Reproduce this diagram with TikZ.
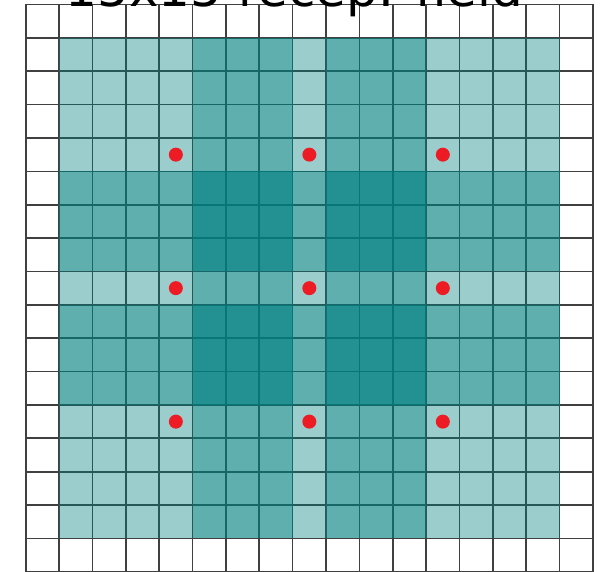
\documentclass[tikz,border=0pt]{standalone}
\usepackage{fontspec}
\setmainfont{DejaVu Sans}
\usepackage{xcolor}
\usepackage{tikz}
\usetikzlibrary{
  positioning,
}
\definecolor{fieldteal}{HTML}{008080}
\definecolor{dotred}{HTML}{ED1C24}

\begin{document}
\begin{tikzpicture}[
    cell/.style={draw=black!75, line width=1.4pt},
    field/.style={fill=fieldteal, fill opacity=0.39},
    centre/.style={circle, fill=dotred, inner sep=0pt, minimum size=0.42cm},
    heading/.style={font=\fontsize{42.6}{50}\selectfont, inner sep=0pt, anchor=base},
  ]
  \fill[white] (-0.77,0.01) rectangle (17.42,17.135);
  \useasboundingbox (-0.77,0.01) rectangle (17.42,17.135);

  % Input grid
  \draw[cell] (0,0) grid (17,17);

  % Receptive fields (7x7 each)
  \foreach \x in {4.5,8.5,12.5} {
    \foreach \y in {4.5,8.5,12.5} {
      \fill[field] (\x-3.5,\y-3.5) rectangle (\x+3.5,\y+3.5);
    }
  }

  % Output positions
  \foreach \x/\c in {4.5/a,8.5/b,12.5/c} {
    \foreach \y/\r in {12.5/1,8.5/2,4.5/3} {
      \node[centre] (d\c\r) at (\x,\y) {};
    }
  }

  \node[heading] (title) at (8.05,16.93) {15x15 recep. field};
\end{tikzpicture}
\end{document}
